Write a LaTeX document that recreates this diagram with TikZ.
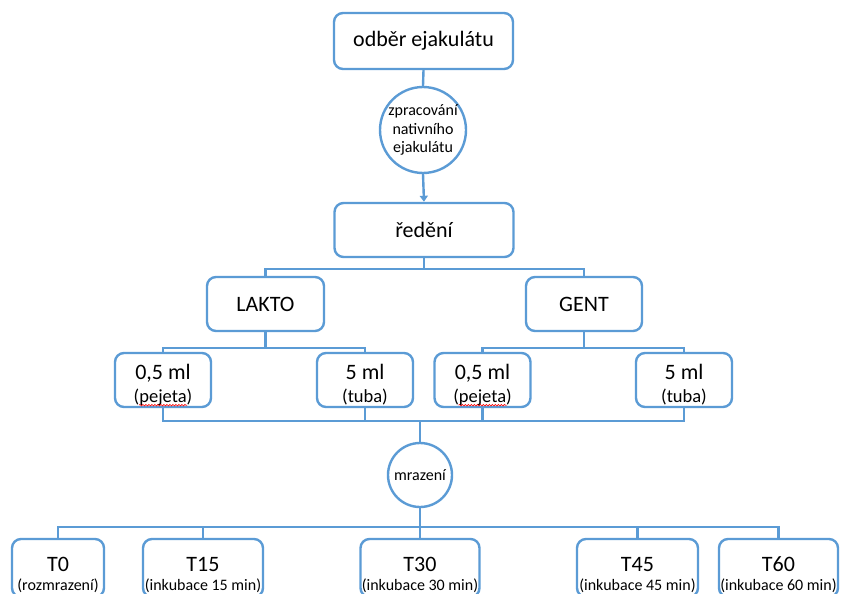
\documentclass[tikz,border=0pt]{standalone}
\usepackage{fontspec}
\setmainfont{Carlito}
\usetikzlibrary{arrows.meta}
\usetikzlibrary{decorations.pathmorphing}

\definecolor{wordblue}{RGB}{91,155,213}

\tikzset{
  box/.style={draw=wordblue, line width=2.4pt, rounded corners=9pt, fill=white, inner sep=0pt, align=center},
  ball/.style={draw=wordblue, line width=2.4pt, circle, fill=white, inner sep=0pt, align=center,
               font=\fontsize{16}{18.5}\selectfont},
  link/.style={draw=wordblue, line width=2.4pt},
  big/.style={font=\fontsize{22}{24}\selectfont},
  volbox/.style={box, minimum width=96pt, minimum height=54pt, font=\fontsize{18.5}{23}\selectfont},
  timebox/.style={box, minimum height=58pt, font=\fontsize{16}{19}\selectfont},
  spellwave/.style={red, line width=0.6pt, decorate, decoration={snake, segment length=3pt, amplitude=0.8pt}},
}

% two-line texts
\newcommand{\volume}[2]{{\fontsize{22}{24}\selectfont\rule{0pt}{25pt}#1}\\#2}
\newcommand{\timetext}[2]{{\fontsize{22}{24}\selectfont\rule{0pt}{28pt}#1}\\#2}

\begin{document}
\begin{tikzpicture}[x=1pt, y=-1pt]
\clip (0,0) rectangle (841,594);

% top part
\node[box, big, minimum width=179pt, minimum height=56pt] (odber) at (423.5,41) {odběr ejakulátu};
\node[ball, minimum size=86pt] (zprac) at (423,130) {zpracování\\nativního\\ejakulátu};
\node[box, big, minimum width=179pt, minimum height=54pt] (redeni) at (424,230) {ředění};

% LAKTO and GENT
\node[box, big, minimum width=117pt, minimum height=54pt] (lakto) at (265.5,304) {LAKTO};
\node[box, big, minimum width=116pt, minimum height=54pt] (gent) at (584,304) {GENT};

\node[volbox] (laktoA) at (163,380) {\volume{0,5 ml}{(pejeta)}};
\node[volbox] (laktoB) at (365,380) {\volume{5 ml}{(tuba)}};
\node[volbox] (gentA) at (482.5,380) {\volume{0,5 ml}{(pejeta)}};
\node[volbox] (gentB) at (684,380) {\volume{5 ml}{(tuba)}};

% spelling marks under pejeta
\draw[spellwave] ([xshift=-24pt,yshift=3pt]laktoA.south) -- ([xshift=24pt,yshift=3pt]laktoA.south);
\draw[spellwave] ([xshift=-24pt,yshift=3pt]gentA.south) -- ([xshift=24pt,yshift=3pt]gentA.south);

% freezing and times
\node[ball, minimum size=64pt] (mraz) at (420,475) {mrazení};

\node[timebox, minimum width=92pt] (t0) at (58,568) {\timetext{T0}{(rozmrazení)}};
\node[timebox, minimum width=120pt] (t15) at (203,568) {\timetext{T15}{(inkubace 15 min)}};
\node[timebox, minimum width=119pt] (t30) at (420,568) {\timetext{T30}{(inkubace 30 min)}};
\node[timebox, minimum width=121pt] (t45) at (637.5,568) {\timetext{T45}{(inkubace 45 min)}};
\node[timebox, minimum width=119pt] (t60) at (778.5,568) {\timetext{T60}{(inkubace 60 min)}};

\coordinate (split) at (424,269);
\coordinate (bus) at (420,421);
\coordinate (bus2) at (420,527);

% connectors
\draw[link] (odber.south) -- (zprac.north);
\draw[link, -{Triangle[width=8pt,length=6pt]}] (zprac.south) -- (redeni.north);
\draw[link] (redeni.south) -- (split);
\draw[link] (lakto.north) |- (split) -| (gent.north);
\draw[link] (lakto.south) -- ++(0,16) -| (laktoA.north);
\draw[link] (lakto.south) -- ++(0,16) -| (laktoB.north);
\draw[link] (gent.south) -- ++(0,16) -| (gentA.north);
\draw[link] (gent.south) -- ++(0,16) -| (gentB.north);
\draw[link] (laktoA.south) |- (bus) -| (gentB.south);
\draw[link] (laktoB.south) -- (laktoB.south |- bus);
\draw[link] (gentA.south) -- (gentA.south |- bus);
\draw[link] (bus) -- (mraz.north);
\draw[link] (mraz.south) -- (t30.north);
\draw[link] (t0.north) |- (bus2) -| (t60.north);
\draw[link] (t15.north) -- (t15.north |- bus2);
\draw[link] (t45.north) -- (t45.north |- bus2);

\end{tikzpicture}
\end{document}
